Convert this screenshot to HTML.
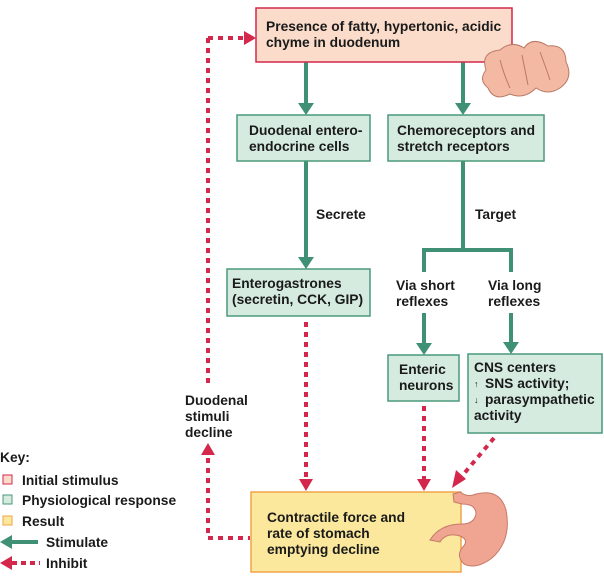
<!DOCTYPE html>
<html><head><style>
body{margin:0;background:#fff;}
svg{display:block;font-family:"Liberation Sans",Arial,sans-serif;font-weight:bold;}
</style></head><body>
<svg width="604" height="576" viewBox="0 0 604 576" xmlns="http://www.w3.org/2000/svg">
<g fill="none" stroke="#3f9074" stroke-width="4">
<line x1="306" y1="62" x2="306" y2="104"/>
<line x1="463" y1="62" x2="463" y2="104"/>
<line x1="306" y1="161" x2="306" y2="258"/>
<line x1="463" y1="161" x2="463" y2="250"/>
<line x1="422" y1="250" x2="513" y2="250"/>
<line x1="424" y1="250" x2="424" y2="272"/>
<line x1="511" y1="250" x2="511" y2="272"/>
<line x1="424" y1="313" x2="424" y2="344"/>
<line x1="511" y1="313" x2="511" y2="343"/>
</g>
<g fill="#3f9074">
<path d="M298,103 L314,103 L306,115 Z"/>
<path d="M455,103 L471,103 L463,115 Z"/>
<path d="M298,257 L314,257 L306,269 Z"/>
<path d="M416,343 L432,343 L424,355 Z"/>
<path d="M503,342 L519,342 L511,354 Z"/>
</g>
<g fill="none" stroke="#d3284c" stroke-width="4" stroke-dasharray="5,5">
<line x1="208" y1="38" x2="208" y2="385"/>
<line x1="208" y1="38" x2="245" y2="38"/>
<line x1="208" y1="458" x2="208" y2="538"/>
<line x1="208" y1="538" x2="250" y2="538"/>
<line x1="306" y1="322" x2="306" y2="480"/>
<line x1="424" y1="406" x2="424" y2="480"/>
<line x1="494" y1="438" x2="462" y2="476"/>
</g>
<g fill="#d3284c">
<path d="M244,31 L256,38 L244,45 Z"/>
<path d="M201,455 L215,455 L208,443 Z"/>
<path d="M299,479 L313,479 L306,491 Z"/>
<path d="M417,479 L431,479 L424,491 Z"/>
<path d="M456,470 L466,479 L452,488 Z"/>
</g>
<rect x="256" y="8" width="256" height="54" fill="#fbdccb" stroke="#d3284c" stroke-width="1.5"/>
<rect x="237" y="115" width="133" height="46" fill="#d5ebe0" stroke="#4a9a7c" stroke-width="1.5"/>
<rect x="388" y="115" width="156" height="46" fill="#d5ebe0" stroke="#4a9a7c" stroke-width="1.5"/>
<rect x="227" y="269" width="143" height="47" fill="#d5ebe0" stroke="#4a9a7c" stroke-width="1.5"/>
<rect x="388" y="355" width="71" height="46" fill="#d5ebe0" stroke="#4a9a7c" stroke-width="1.5"/>
<rect x="468" y="354" width="134" height="79" fill="#d5ebe0" stroke="#4a9a7c" stroke-width="1.5"/>
<rect x="251" y="492" width="210" height="80" fill="#fbe89c" stroke="#f0a44c" stroke-width="1.5"/>
<g fill="#f3b9a2" stroke="#b97a68" stroke-width="1">
<path d="M486,70 Q480,52 500,50 Q512,40 524,48 Q532,36 548,46 Q566,44 566,62 Q574,78 560,88 Q548,96 536,88 Q524,100 510,94 Q494,102 488,88 Q478,80 486,70 Z"/>
<path d="M500,60 Q504,75 510,88 M522,55 Q525,70 528,85 M540,52 Q545,65 550,80" fill="none"/>
</g>
<g fill="#f0a592" stroke="#c57a68" stroke-width="1">
<path d="M453,494 L460,492 Q468,498 476,494 Q500,488 506,510 Q512,540 492,558 Q476,570 464,564 Q456,556 462,548 Q470,540 460,536 Q446,532 440,542 L430,540 Q440,524 462,524 Q474,524 476,514 Q476,504 462,504 L454,502 Z"/>
</g>
<g font-size="13.8" fill="#1a1a1a">
<text x="266" y="31">Presence of fatty, hypertonic, acidic</text>
<text x="266" y="47">chyme in duodenum</text>
<text x="249" y="135">Duodenal entero-</text>
<text x="249" y="151">endocrine cells</text>
<text x="397" y="135">Chemoreceptors and</text>
<text x="397" y="151">stretch receptors</text>
<text x="316" y="219">Secrete</text>
<text x="475" y="219">Target</text>
<text x="232" y="288">Enterogastrones</text>
<text x="232" y="304">(secretin, CCK, GIP)</text>
<text x="396" y="290">Via short</text>
<text x="396" y="306">reflexes</text>
<text x="488" y="290">Via long</text>
<text x="488" y="306">reflexes</text>
<text x="399" y="374">Enteric</text>
<text x="399" y="390">neurons</text>
<text x="474" y="372">CNS centers</text>
<text x="485" y="388">SNS activity;</text>
<text x="485" y="404">parasympathetic</text>
<text x="474" y="420">activity</text>
<text x="185" y="405">Duodenal</text>
<text x="185" y="421">stimuli</text>
<text x="185" y="437">decline</text>
<text x="267" y="522">Contractile force and</text>
<text x="267" y="538">rate of stomach</text>
<text x="267" y="554">emptying decline</text>
<text x="0" y="462">Key:</text>
<text x="22" y="485">Initial stimulus</text>
<text x="22" y="505">Physiological response</text>
<text x="22" y="526">Result</text>
<text x="46" y="547">Stimulate</text>
<text x="46" y="568">Inhibit</text>
</g>
<g font-size="9" fill="#1a1a1a"><text x="474" y="387">↑</text><text x="474" y="403">↓</text></g>
<rect x="3" y="475" width="9" height="9" fill="#fbdccb" stroke="#d3284c"/>
<rect x="3" y="495" width="9" height="9" fill="#d5ebe0" stroke="#4a9a7c"/>
<rect x="3" y="516" width="9" height="9" fill="#fbe89c" stroke="#f0a44c"/>
<line x1="10" y1="542" x2="38" y2="542" stroke="#3f9074" stroke-width="4"/>
<path d="M0,542 L12,535 L12,549 Z" fill="#3f9074"/>
<line x1="12" y1="563" x2="40" y2="563" stroke="#d3284c" stroke-width="4" stroke-dasharray="5,4"/>
<path d="M0,563 L12,556 L12,570 Z" fill="#d3284c"/>
</svg>
</body></html>
